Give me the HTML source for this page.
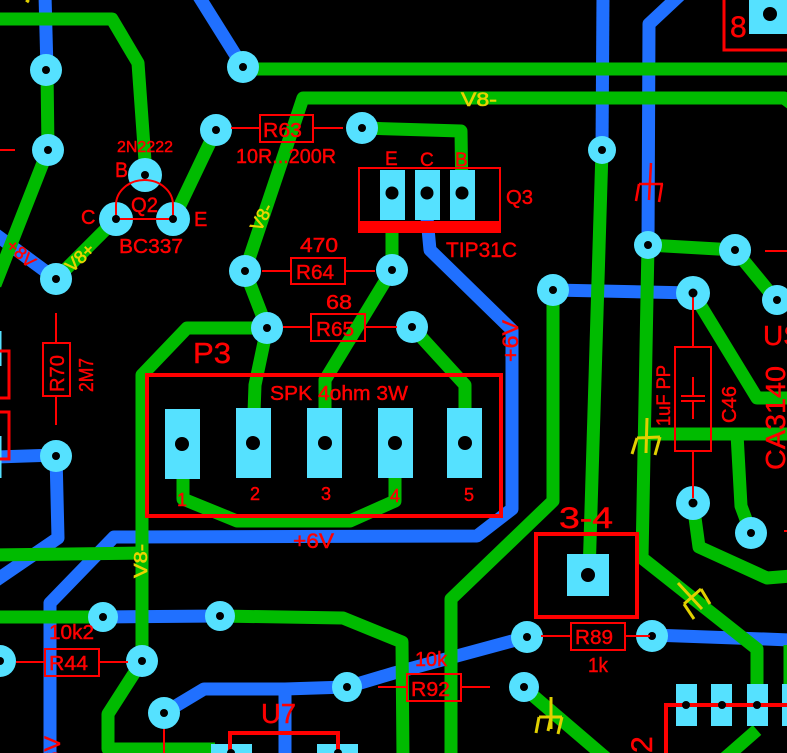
<!DOCTYPE html>
<html>
<head>
<meta charset="utf-8">
<style>
html,body{margin:0;padding:0;background:#000;width:787px;height:753px;overflow:hidden}
svg{display:block}
text{font-family:"Liberation Sans",sans-serif;fill:#f00;stroke:#f00;stroke-width:.45}
text.y{fill:#e8d400;stroke:#e8d400;stroke-width:.6}
</style>
</head>
<body>
<svg width="787" height="753" viewBox="0 0 787 753" xmlns="http://www.w3.org/2000/svg">
<rect width="787" height="753" fill="#000"/>
<g fill="none" stroke="#2070ff" stroke-width="13" stroke-linejoin="round">
<path d="M45 -5L47 70"/>
<path d="M198 -5L243 67"/>
<path d="M603 -5L602 150"/>
<path d="M680 -5L649 24L648 245"/>
<path d="M-5 234L56 279"/>
<path d="M427 218L430 250L512 330L512 509L477 536L114 537L50 603L50 758"/>
<path d="M-5 457L56 455L58 538L-5 581"/>
<path d="M553 290L693 293"/>
<path d="M103 617L220 616"/>
<path d="M652 635L792 640"/>
<path d="M527 637L394 673L347 687L285 689L204 689L164 713"/>
<path d="M285 689V758"/>
</g>
<g fill="none" stroke="#00bb00" stroke-width="13" stroke-linejoin="round">
<path d="M-5 19L112 19L138 63L146 175"/>
<path d="M47 70L48 150L-5 285"/>
<path d="M243 69H792"/>
<path d="M216 130L173 220"/>
<path d="M56 279L116 219"/>
<path d="M792 104L784 98L303 98L245 271L267 328"/>
<path d="M267 328L187 328L142 375L142 661L108 714L108 749L215 749"/>
<path d="M267 328L255 385L253 440"/>
<path d="M392 225L392 270L325 380L325 440"/>
<path d="M412 327L465 385L465 420"/>
<path d="M362 128L461 131L462 200"/>
<path d="M183 470L183 499L237 521L350 521L395 501L395 470"/>
<path d="M553 290L553 501L451 599L451 758"/>
<path d="M602 150L589 575"/>
<path d="M648 245L642 558L757 649L757 720"/>
<path d="M757 730L725 758"/>
<path d="M648 245L735 250L776 300"/>
<path d="M693 293L757 398L792 398"/>
<path d="M643 434L792 434"/>
<path d="M737 434L741 506L751 533"/>
<path d="M693 503L699 547L767 578L792 576"/>
<path d="M-5 555L142 553"/>
<path d="M-5 617L103 617"/>
<path d="M220 616L343 618L402 642L403 758"/>
<path d="M523 687L606 758"/>
<path d="M790 645V690"/>
</g>
<g fill="#55e1ff">
<circle cx="46" cy="70" r="16"/><circle cx="48" cy="150" r="16"/><circle cx="243" cy="67" r="16"/>
<circle cx="216" cy="130" r="16"/><circle cx="362" cy="128" r="16"/><circle cx="145" cy="175" r="17"/>
<circle cx="116" cy="219" r="17"/><circle cx="173" cy="219" r="17"/><circle cx="56" cy="279" r="16"/>
<circle cx="245" cy="271" r="16"/><circle cx="392" cy="270" r="16"/><circle cx="267" cy="328" r="16"/>
<circle cx="412" cy="327" r="16"/><circle cx="56" cy="456" r="16"/><circle cx="103" cy="617" r="15"/>
<circle cx="220" cy="616" r="15"/><circle cx="142" cy="661" r="16"/><circle cx="0" cy="661" r="16"/>
<circle cx="164" cy="713" r="16"/><circle cx="347" cy="687" r="15"/><circle cx="527" cy="637" r="16"/>
<circle cx="652" cy="636" r="16"/><circle cx="524" cy="687" r="15"/><circle cx="693" cy="293" r="17"/>
<circle cx="693" cy="503" r="17"/><circle cx="751" cy="533" r="16"/><circle cx="735" cy="250" r="16"/>
<circle cx="777" cy="300" r="15"/><circle cx="648" cy="245" r="14"/><circle cx="602" cy="150" r="14"/>
<circle cx="553" cy="290" r="16"/>
<rect x="165" y="409" width="35" height="70"/><rect x="236" y="408" width="35" height="70"/>
<rect x="307" y="408" width="35" height="70"/><rect x="378" y="408" width="35" height="70"/>
<rect x="447" y="408" width="35" height="70"/>
<rect x="567" y="554" width="42" height="42"/>
<rect x="380" y="170" width="25" height="50"/><rect x="415" y="170" width="25" height="50"/><rect x="450" y="170" width="25" height="50"/>
<rect x="749" y="-10" width="38" height="44"/>
<rect x="676" y="684" width="21" height="42"/><rect x="711" y="684" width="21" height="42"/>
<rect x="747" y="684" width="21" height="42"/><rect x="782" y="684" width="5" height="42"/>
<rect x="211" y="744" width="41" height="9"/><rect x="317" y="744" width="41" height="9"/>
<rect x="0" y="331" width="1.5" height="35"/><rect x="0" y="436" width="1.5" height="42"/>
</g>
<g fill="#000">
<circle cx="46" cy="70" r="4"/><circle cx="48" cy="150" r="4"/><circle cx="243" cy="67" r="4"/>
<circle cx="216" cy="130" r="4"/><circle cx="362" cy="128" r="4"/><circle cx="145" cy="175" r="4"/>
<circle cx="56" cy="279" r="4"/>
<circle cx="245" cy="271" r="4"/><circle cx="392" cy="270" r="4"/><circle cx="267" cy="328" r="4"/>
<circle cx="412" cy="327" r="4"/><circle cx="56" cy="456" r="4"/><circle cx="103" cy="617" r="4"/>
<circle cx="220" cy="616" r="4"/><circle cx="142" cy="661" r="4"/><circle cx="0" cy="661" r="4"/>
<circle cx="164" cy="713" r="4"/><circle cx="347" cy="687" r="4"/><circle cx="527" cy="637" r="4"/>
<circle cx="652" cy="636" r="4"/><circle cx="524" cy="687" r="4"/>
<circle cx="751" cy="533" r="4"/><circle cx="735" cy="250" r="4"/>
<circle cx="777" cy="300" r="4"/><circle cx="648" cy="245" r="4"/><circle cx="602" cy="150" r="4"/>
<circle cx="553" cy="290" r="4"/>
<circle cx="182" cy="444" r="7"/><circle cx="253" cy="443" r="7"/><circle cx="325" cy="443" r="7"/><circle cx="395" cy="443" r="7"/><circle cx="465" cy="443" r="7"/>
<circle cx="588" cy="575" r="7"/>
<circle cx="392" cy="193" r="6.5"/><circle cx="427" cy="193" r="6.5"/><circle cx="462" cy="193" r="6.5"/>
<circle cx="770" cy="14" r="7"/>
</g>
<g fill="none" stroke="#f00" stroke-width="2">
<path d="M116 219V205A28.5 25 0 0 1 173 205V219Z"/>
<rect x="359" y="168" width="141" height="55"/>
<rect x="260" y="115" width="53" height="27"/><path d="M231 128H260M313 128H343"/>
<rect x="291" y="258" width="54" height="26"/><path d="M262 271H291M345 271H375"/>
<rect x="311" y="314" width="54" height="27"/><path d="M283 327H311M365 327H397"/>
<rect x="43" y="343" width="27" height="53"/><path d="M56 313V343M56 396V425"/>
<rect x="45" y="649" width="54" height="27"/><path d="M16 662H45M99 662H128"/>
<rect x="407" y="674" width="54" height="27"/><path d="M378 687H407M461 687H490"/>
<rect x="571" y="623" width="54" height="27"/><path d="M541 636H571M625 636H650"/>
<rect x="675" y="347" width="36" height="104"/><path d="M693 293V347M693 451V498"/>
<path d="M693 377V396M693 401V419M681 396H705M681 401H705" stroke-width="2"/>
<path d="M164 729V753"/>
<path d="M0 150H15M765 251H787M784 531H787"/>
</g>
<g fill="none" stroke="#f00" stroke-width="4">
<rect x="147" y="375" width="354" height="141"/>
<rect x="536" y="534" width="101" height="83"/>
<path d="M230 753V733H338V753"/>
<path d="M666 753V705H787"/>
<path d="M724 0V50H787" stroke-width="3"/>
<path d="M0 351H9V398H0M0 412H9V459H0" stroke-width="3"/>
</g>
<rect x="358" y="221" width="143" height="12" fill="#f00"/>
<g fill="#000">
<circle cx="116" cy="219" r="4"/><circle cx="173" cy="219" r="4"/>
<circle cx="693" cy="293" r="4.5"/><circle cx="693" cy="503" r="4.5"/>
<circle cx="686" cy="705" r="4"/><circle cx="722" cy="705" r="4"/><circle cx="757" cy="705" r="4"/>
<circle cx="231" cy="753" r="4"/><circle cx="338" cy="753" r="4"/>
</g>
<g fill="none" stroke="#f00" stroke-width="2.5">
<path d="M651 163L649 200M639 184H663M639 184L636 201M662 184L659 202"/>
</g>
<g fill="none" stroke="#e0d000" stroke-width="3">
<path d="M647 418L646 453M637 438L660 437M637 438L632 454M660 437L655 455"/>
<path d="M678 583L702 609M684 604L701 589M684 604L694 619M701 589L710 604"/>
<path d="M551 697V729M539 717H562M539 717L536 733M562 717L558 734M551 717L548 731"/>
<path d="M26 0L29 2"/>
</g>
<text x="117" y="152" font-size="16" textLength="56" lengthAdjust="spacingAndGlyphs">2N2222</text>
<text x="115" y="177" font-size="21" textLength="13" lengthAdjust="spacingAndGlyphs">B</text>
<text x="131" y="212" font-size="21" textLength="27" lengthAdjust="spacingAndGlyphs">Q2</text>
<text x="81" y="224" font-size="20">C</text>
<text x="194" y="226" font-size="20">E</text>
<text x="119" y="253" font-size="20" textLength="64" lengthAdjust="spacingAndGlyphs">BC337</text>
<text class="y" font-size="18" text-anchor="middle" transform="translate(84 262) rotate(-43)">V8+</text>
<text font-size="18" text-anchor="middle" transform="translate(17 258) rotate(42)">+8V</text>
<text x="263" y="137" font-size="20" textLength="39" lengthAdjust="spacingAndGlyphs">R63</text>
<text x="236" y="163" font-size="20" textLength="100" lengthAdjust="spacingAndGlyphs">10R...200R</text>
<text class="y" font-size="18" text-anchor="middle" transform="translate(267 220) rotate(-62)">V8-</text>
<text x="300" y="252" font-size="20" textLength="38" lengthAdjust="spacingAndGlyphs">470</text>
<text x="296" y="279" font-size="20" textLength="38" lengthAdjust="spacingAndGlyphs">R64</text>
<text x="326" y="309" font-size="20" textLength="26" lengthAdjust="spacingAndGlyphs">68</text>
<text x="316" y="336" font-size="20" textLength="38" lengthAdjust="spacingAndGlyphs">R65</text>
<text x="193" y="363" font-size="29" textLength="38" lengthAdjust="spacingAndGlyphs">P3</text>
<text x="385" y="165" font-size="19">E</text>
<text x="420" y="166" font-size="19">C</text>
<text x="455" y="166" font-size="19">B</text>
<text x="506" y="204" font-size="20" textLength="27" lengthAdjust="spacingAndGlyphs">Q3</text>
<text x="446" y="257" font-size="21" textLength="71" lengthAdjust="spacingAndGlyphs">TIP31C</text>
<text class="y" x="461" y="106" font-size="19" textLength="36" lengthAdjust="spacingAndGlyphs">V8-</text>
<text x="730" y="37" font-size="30">8</text>
<text x="763" y="345" font-size="28">US</text>
<text transform="translate(785 470) rotate(-90)" font-size="28" textLength="104" lengthAdjust="spacingAndGlyphs">CA3140</text>
<text transform="translate(670 426) rotate(-90)" font-size="19" textLength="61" lengthAdjust="spacingAndGlyphs">1uF PP</text>
<text transform="translate(736 423) rotate(-90)" font-size="20" textLength="37" lengthAdjust="spacingAndGlyphs">C46</text>
<text transform="translate(64 392) rotate(-90)" font-size="20" textLength="37" lengthAdjust="spacingAndGlyphs">R70</text>
<text transform="translate(93 392) rotate(-90)" font-size="20" textLength="34" lengthAdjust="spacingAndGlyphs">2M7</text>
<text x="270" y="400" font-size="20" textLength="138" lengthAdjust="spacingAndGlyphs">SPK 4ohm 3W</text>
<text x="177" y="506" font-size="18">1</text>
<text x="250" y="500" font-size="18">2</text>
<text x="321" y="500" font-size="18">3</text>
<text x="390" y="502" font-size="18">4</text>
<text x="464" y="501" font-size="18">5</text>
<text transform="translate(518 362) rotate(-90)" font-size="22" textLength="42" lengthAdjust="spacingAndGlyphs">+6V</text>
<text x="293" y="548" font-size="21" textLength="41" lengthAdjust="spacingAndGlyphs">+6V</text>
<text class="y" transform="translate(147 578) rotate(-90)" font-size="18" textLength="34" lengthAdjust="spacingAndGlyphs">V8-</text>
<text x="49" y="639" font-size="20" textLength="45" lengthAdjust="spacingAndGlyphs">10k2</text>
<text x="49" y="670" font-size="20" textLength="39" lengthAdjust="spacingAndGlyphs">R44</text>
<text x="261" y="723" font-size="28" textLength="35" lengthAdjust="spacingAndGlyphs">U7</text>
<text transform="translate(60 778) rotate(-90)" font-size="22" textLength="42" lengthAdjust="spacingAndGlyphs">+6V</text>
<text x="559" y="528" font-size="30" textLength="54" lengthAdjust="spacingAndGlyphs">3-4</text>
<text x="575" y="644" font-size="20" textLength="38" lengthAdjust="spacingAndGlyphs">R89</text>
<text x="588" y="672" font-size="20" textLength="20" lengthAdjust="spacingAndGlyphs">1k</text>
<text x="415" y="666" font-size="20" textLength="32" lengthAdjust="spacingAndGlyphs">10k</text>
<text x="411" y="696" font-size="20" textLength="39" lengthAdjust="spacingAndGlyphs">R92</text>
<text transform="translate(652 753) rotate(-90)" font-size="30">2</text>
</svg>
</body>
</html>
